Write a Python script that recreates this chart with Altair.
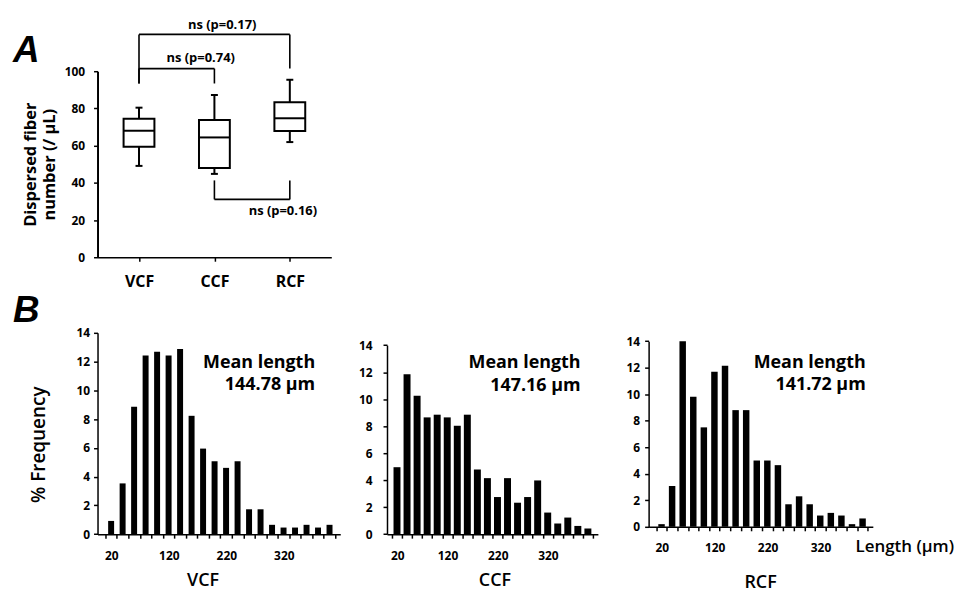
import altair as alt
import pandas as pd

FONT = "Open Sans"
LETTER_FONT = "Liberation Sans"

# ---------------- data ----------------
groups = ["VCF", "CCF", "RCF"]
box_min = [49.1, 44.8, 61.9]
box_q1 = [59.4, 48.0, 67.8]
box_median = [68.0, 64.4, 74.7]
box_q3 = [74.4, 73.8, 83.3]
box_max = [80.4, 87.2, 95.4]
count_ticks = [0, 20, 40, 60, 80, 100]

cmp_labels = ["ns (p=0.17)", "ns (p=0.74)", "ns (p=0.16)"]
cmp_from = ["VCF", "VCF", "CCF"]
cmp_to = ["RCF", "CCF", "RCF"]
cmp_level = [119.8, 101.4, 31.1]
cmp_from_end = [93.4, 93.4, 41.3]
cmp_to_end = [101.4, 93.4, 41.3]
cmp_label_y = [124.6, 107.3, 24.7]

length_bins = [20, 40, 60, 80, 100, 120, 140, 160, 180, 200,
               220, 240, 260, 280, 300, 320, 340, 360, 380, 400]
vcf_freq = [0.92, 3.53, 8.86, 12.43, 12.68, 12.43, 12.87, 8.23, 5.95, 5.07,
            4.61, 5.07, 1.73, 1.73, 0.65, 0.46, 0.46, 0.65, 0.46, 0.65]
ccf_freq = [4.96, 11.84, 10.25, 8.65, 8.85, 8.65, 8.03, 8.85, 4.79, 4.15,
            2.75, 4.15, 2.33, 2.75, 3.98, 1.60, 0.79, 1.23, 0.61, 0.42]
rcf_freq = [0.20, 3.08, 14.0, 9.80, 7.50, 11.70, 12.15, 8.80, 8.80, 5.00,
            5.00, 4.65, 1.70, 2.30, 1.70, 0.85, 1.05, 0.85, 0.20, 0.63]
mean_lengths = ["144.78 μm", "147.16 μm", "141.72 μm"]
freq_ticks = [0, 2, 4, 6, 8, 10, 12, 14]
length_tick_labels = [20, 120, 220, 320]

bin_edges = [b - 10 for b in length_bins] + [length_bins[-1] + 10]


def one_row():
    return pd.DataFrame({"k": [0]})


def anchor(x, y):
    # invisible (white) point that fixes the layout bounds
    return alt.Chart(one_row()).mark_rule(color="white", strokeWidth=1).encode(
        x=alt.value(x), x2=alt.value(x + 1), y=alt.value(y), y2=alt.value(y))


# ---------------- panel A ----------------
box_df = pd.DataFrame({"group": groups, "lo": box_min, "q1": box_q1,
                       "med": box_median, "q3": box_q3, "hi": box_max})
cmp_df = pd.DataFrame({"label": cmp_labels, "g1": cmp_from, "g2": cmp_to,
                       "level": cmp_level, "e1": cmp_from_end, "e2": cmp_to_end,
                       "ly": cmp_label_y})

axA_x = alt.Axis(title=None, labelAngle=0, labelFontSize=16, labelFontWeight="bold",
                 tickSize=4, tickWidth=1.5, labelPadding=12, domainWidth=1.5)
axA_y = alt.Axis(values=count_ticks, title=["Dispersed fiber", "number (/ μL)"],
                 titleFontSize=16.5, titleFontWeight="bold", titleX=-67, titleY=93.5,
                 titleBaseline="middle", titleAlign="center", titleLineHeight=19,
                 labelFontSize=12, labelFontWeight="bold", tickSize=4, tickWidth=1.5,
                 labelPadding=9, domainWidth=2, labelOverlap=False)


def xA(f):
    return alt.X(f"{f}:N", scale=alt.Scale(type="point", domain=groups, padding=0.55),
                 axis=axA_x)


def yA(f):
    return alt.Y(f"{f}:Q", scale=alt.Scale(domain=[0, 100], nice=False, zero=True),
                 axis=axA_y)


baseA = alt.Chart(box_df)
whisk_lo = baseA.mark_rule(color="black", strokeWidth=2).encode(x=xA("group"), y=yA("lo"), y2="q1:Q")
whisk_hi = baseA.mark_rule(color="black", strokeWidth=2).encode(x=xA("group"), y=yA("q3"), y2="hi:Q")
boxes = baseA.mark_bar(size=31, fill="white", stroke="black", strokeWidth=2).encode(
    x=xA("group"), y=yA("q1"), y2="q3:Q")
medians = baseA.mark_tick(size=31, thickness=2, color="black", opacity=1).encode(x=xA("group"), y=yA("med"))
caps_lo = baseA.mark_tick(size=7, thickness=2, color="black", opacity=1).encode(x=xA("group"), y=yA("lo"))
caps_hi = baseA.mark_tick(size=7, thickness=2, color="black", opacity=1).encode(x=xA("group"), y=yA("hi"))

baseC = alt.Chart(cmp_df)
br_h = baseC.mark_rule(color="black", strokeWidth=1.6).encode(x=xA("g1"), x2="g2:N", y=yA("level"))
br_l = baseC.mark_rule(color="black", strokeWidth=1.6).encode(x=xA("g1"), y=yA("level"), y2="e1:Q")
br_r = baseC.mark_rule(color="black", strokeWidth=1.6).encode(x=xA("g2"), y=yA("level"), y2="e2:Q")

label_layers = []
for lbl, grp_field, shift in [(cmp_labels[0], "g2", -68), (cmp_labels[1], "g1", 62), (cmp_labels[2], "g2", -7)]:
    label_layers.append(
        baseC.transform_filter(alt.datum.label == lbl).mark_text(
            fontSize=13, fontWeight="bold", font=FONT, color="black", dx=shift, baseline="middle"
        ).encode(x=xA(grp_field), y=yA("ly"), text="label:N"))

letterA = alt.Chart(one_row()).mark_text(
    font=LETTER_FONT, fontSize=37, fontWeight="bold", fontStyle="italic",
    align="left", baseline="alphabetic", color="black"
).encode(x=alt.value(-85), y=alt.value(-9), text=alt.value("A"))

panelA = alt.layer(
    whisk_lo, whisk_hi, boxes, medians, caps_lo, caps_hi,
    br_h, br_l, br_r, *label_layers, letterA,
    anchor(-89, -61), anchor(-89, 219)
).properties(width=235, height=187)


# ---------------- panel B ----------------
def histogram(name, freq, mean, domain, width, height, y_range, bar_size, ylab_pad,
              title_x, title_y, mean_x, mean_y, anchors, ytitle=None, extra=()):
    df = pd.DataFrame({"length": length_bins, "freq": freq})
    step_half = width / (domain[1] - domain[0]) * 10
    label_expr = ("indexof(%s, datum.value + 10) >= 0 ? format(datum.value + 10, 'd') : ''"
                  % str(length_tick_labels))
    xax = alt.Axis(values=bin_edges, labelExpr=label_expr, labelOffset=step_half,
                   labelFlush=False, labelOverlap=False, tickSize=4, tickWidth=1.5,
                   domainWidth=1.5, labelFontSize=12, labelFontWeight="bold", labelPadding=12,
                   title=name, titleFontSize=18, titleFontWeight=600,
                   titleX=title_x, titleY=title_y, titleBaseline="middle", titleAlign="center")
    yax_kwargs = dict(values=freq_ticks, tickSize=4, tickWidth=1.5, domainWidth=1.5,
                      labelFontSize=12, labelFontWeight="bold", labelPadding=ylab_pad,
                      labelOverlap=False)
    if ytitle:
        yax = alt.Axis(title=ytitle, titleFontSize=19, titleFontWeight=600,
                       titleX=-59, titleY=112, titleBaseline="middle", titleAlign="center",
                       **yax_kwargs)
    else:
        yax = alt.Axis(title=None, **yax_kwargs)
    xs = alt.Scale(domain=domain, nice=False, zero=False)
    ys = alt.Scale(domain=[0, 14], nice=False, range=list(y_range))
    bars = alt.Chart(df).mark_bar(size=bar_size, color="black").encode(
        x=alt.X("length:Q", scale=xs, axis=xax),
        y=alt.Y("freq:Q", scale=ys, axis=yax))
    mdf = pd.DataFrame({"t": ["Mean length", mean], "x": [mean_x, mean_x], "y": list(mean_y)})
    mtext = alt.Chart(mdf).mark_text(fontSize=18, fontWeight="bold", font=FONT, align="right",
                                     baseline="alphabetic", color="black").encode(
        x=alt.X("x:Q", scale=xs, axis=xax), y=alt.Y("y:Q", scale=ys, axis=yax), text="t:N")
    layers = [bars, mtext] + [anchor(ax, ay) for ax, ay in anchors] + list(extra)
    return alt.layer(*layers).properties(width=width, height=height)


letterB = alt.Chart(one_row()).mark_text(
    font=LETTER_FONT, fontSize=37, fontWeight="bold", fontStyle="italic",
    align="left", baseline="alphabetic", color="black"
).encode(x=alt.value(-85), y=alt.value(-11.3), text=alt.value("B"))

length_title = alt.Chart(one_row()).mark_text(
    font=FONT, fontSize=17, fontWeight=600, align="left", baseline="middle", color="black"
).encode(x=alt.value(208), y=alt.value(215.7), text=alt.value("Length (μm)"))

h_vcf = histogram("VCF", vcf_freq, mean_lengths[0], [5, 410], 244, 202.4, (202.4, 0), 6, 4,
                  105.6, 46.3, 375, (11.58, 10.03),
                  [(-89, -42.3), (253, -42.3)], ytitle="% Frequency", extra=[letterB])
h_ccf = histogram("CCF", ccf_freq, mean_lengths[1], [10, 410], 212, 202.4, (202.4, 12.4), 7, 11,
                  108, 46.3, 385.5, (12.28, 10.61),
                  [(-35, -42.3), (227, -42.3)])
h_rcf = histogram("RCF", rcf_freq, mean_lengths[2], [5, 410], 225.4, 195, (195, 8.4), 6.5, 5,
                  112, 55.7, 406, (12.0, 10.32),
                  [(-33, -42.3)], extra=[length_title])

rowB = alt.hconcat(h_vcf, h_ccf, h_rcf, spacing=0, bounds="full")

chart = alt.vconcat(panelA, rowB, spacing=0, bounds="full").properties(
    padding=0, background="white"
).configure_view(strokeWidth=0).configure_axis(
    grid=False, domainColor="black", tickColor="black", labelColor="black",
    titleColor="black", labelFont=FONT, titleFont=FONT
)

chart.save("out.html", embed_options={"renderer": "svg", "actions": False})
